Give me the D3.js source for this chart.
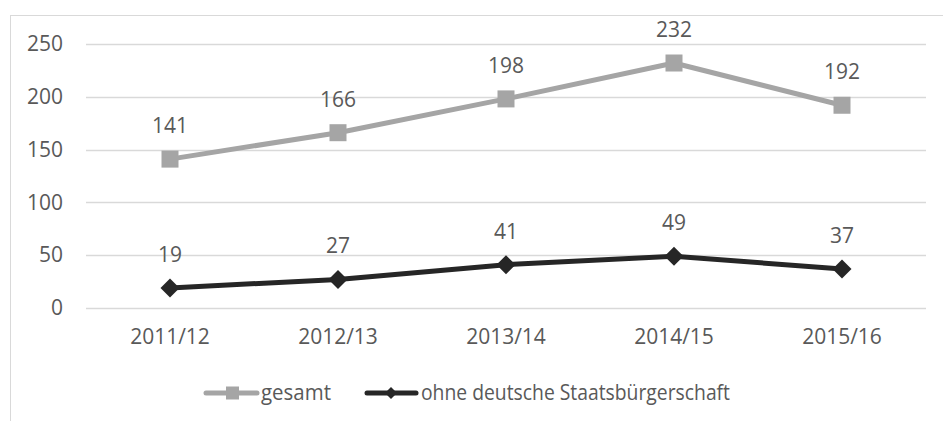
<!DOCTYPE html>
<html>
<head>
<meta charset="utf-8">
<script src="https://cdn.jsdelivr.net/npm/d3@7"></script>
<style>
  html, body { margin: 0; padding: 0; background: #fff; }
  svg { display: block; }
  text { font-family: "Open Sans", "Noto Sans", sans-serif; fill: #595959; }
</style>
</head>
<body>
<svg id="chart" width="943" height="421"></svg>
<script>
// Schuljahre und Werte
const categories = ["2011/12", "2012/13", "2013/14", "2014/15", "2015/16"];
const gesamt = [141, 166, 198, 232, 192];
const ohneDeutsche = [19, 27, 41, 49, 37];
const yTicks = [0, 50, 100, 150, 200, 250];
const seriesNames = ["gesamt", "ohne deutsche Staatsbürgerschaft"];

const svg = d3.select("#chart");
const FS = 21;

// Rahmen des Diagrammbereichs
svg.append("rect")
  .attr("x", 10.5).attr("y", 15.5)
  .attr("width", 1000).attr("height", 500)
  .attr("fill", "none").attr("stroke", "#D9D9D9").attr("stroke-width", 1);

const plot = { left: 86, right: 926, top: 44, bottom: 308 };

const x = d3.scaleBand().domain(categories).range([plot.left, plot.right]);
const y = d3.scaleLinear().domain([0, 250]).range([plot.bottom, plot.top]);
const cx = d => x(d) + x.bandwidth() / 2;

// Gitternetzlinien
svg.append("g").selectAll("line").data(yTicks).join("line")
  .attr("x1", plot.left).attr("x2", plot.right)
  .attr("y1", d => Math.round(y(d)) + 0.5).attr("y2", d => Math.round(y(d)) + 0.5)
  .attr("stroke", "#D9D9D9").attr("stroke-width", 1.5);

// Y-Achse
const yAxis = svg.append("g")
  .attr("transform", `translate(${plot.left},0)`)
  .call(d3.axisLeft(y).tickValues(yTicks).tickSize(0).tickPadding(23));
yAxis.select(".domain").remove();
yAxis.selectAll("text").attr("font-size", FS).attr("fill", "#595959")
  .style("font-family", '"Open Sans", sans-serif');

// X-Achse
const xAxis = svg.append("g")
  .attr("transform", `translate(0,${plot.bottom})`)
  .call(d3.axisBottom(x).tickSize(0).tickPadding(21));
xAxis.select(".domain").remove();
xAxis.selectAll("text").attr("font-size", FS).attr("fill", "#595959")
  .style("font-family", '"Open Sans", sans-serif');

const line = d3.line().x((d, i) => cx(categories[i])).y(d => y(d));

const colors = ["#A5A5A5", "#262626"];

// Linien
[gesamt, ohneDeutsche].forEach((vals, k) => {
  svg.append("path").datum(vals)
    .attr("d", line)
    .attr("fill", "none")
    .attr("stroke", colors[k])
    .attr("stroke-width", 5)
    .attr("stroke-linejoin", "round")
    .attr("stroke-linecap", "round");
});

// Marker: Quadrate
svg.append("g").selectAll("rect").data(gesamt).join("rect")
  .attr("x", (d, i) => cx(categories[i]) - 8.5)
  .attr("y", d => y(d) - 8.5)
  .attr("width", 17).attr("height", 17)
  .attr("fill", colors[0]);

// Marker: Rauten
const diamond = s => `M0,${-s}L${s},0L0,${s}L${-s},0Z`;
svg.append("g").selectAll("path").data(ohneDeutsche).join("path")
  .attr("transform", (d, i) => `translate(${cx(categories[i])},${y(d)})`)
  .attr("d", diamond(9.5))
  .attr("fill", colors[1]);

// Datenbeschriftungen
[gesamt, ohneDeutsche].forEach(vals => {
  svg.append("g").selectAll("text").data(vals).join("text")
    .attr("x", (d, i) => cx(categories[i]))
    .attr("y", d => y(d) - 26)
    .attr("text-anchor", "middle")
    .attr("font-size", FS)
    .text(d => d);
});

// Legende
const ly = 393;
const legend = svg.append("g");
// gesamt
legend.append("line").attr("x1", 206).attr("x2", 257).attr("y1", ly).attr("y2", ly)
  .attr("stroke", colors[0]).attr("stroke-width", 5).attr("stroke-linecap", "round");
legend.append("rect").attr("x", 226).attr("y", ly - 6.5).attr("width", 13).attr("height", 13)
  .attr("fill", colors[0]);
legend.append("text").attr("x", 261).attr("y", ly + 7).attr("font-size", FS)
  .attr("textLength", 70).attr("lengthAdjust", "spacingAndGlyphs")
  .text(seriesNames[0]);
// ohne deutsche Staatsbürgerschaft
legend.append("line").attr("x1", 367).attr("x2", 416).attr("y1", ly).attr("y2", ly)
  .attr("stroke", colors[1]).attr("stroke-width", 5).attr("stroke-linecap", "round");
legend.append("path").attr("transform", `translate(391,${ly})`).attr("d", diamond(6))
  .attr("fill", colors[1]);
legend.append("text").attr("x", 421).attr("y", ly + 7).attr("font-size", FS)
  .attr("textLength", 309).attr("lengthAdjust", "spacingAndGlyphs")
  .text(seriesNames[1]);
</script>
</body>
</html>
